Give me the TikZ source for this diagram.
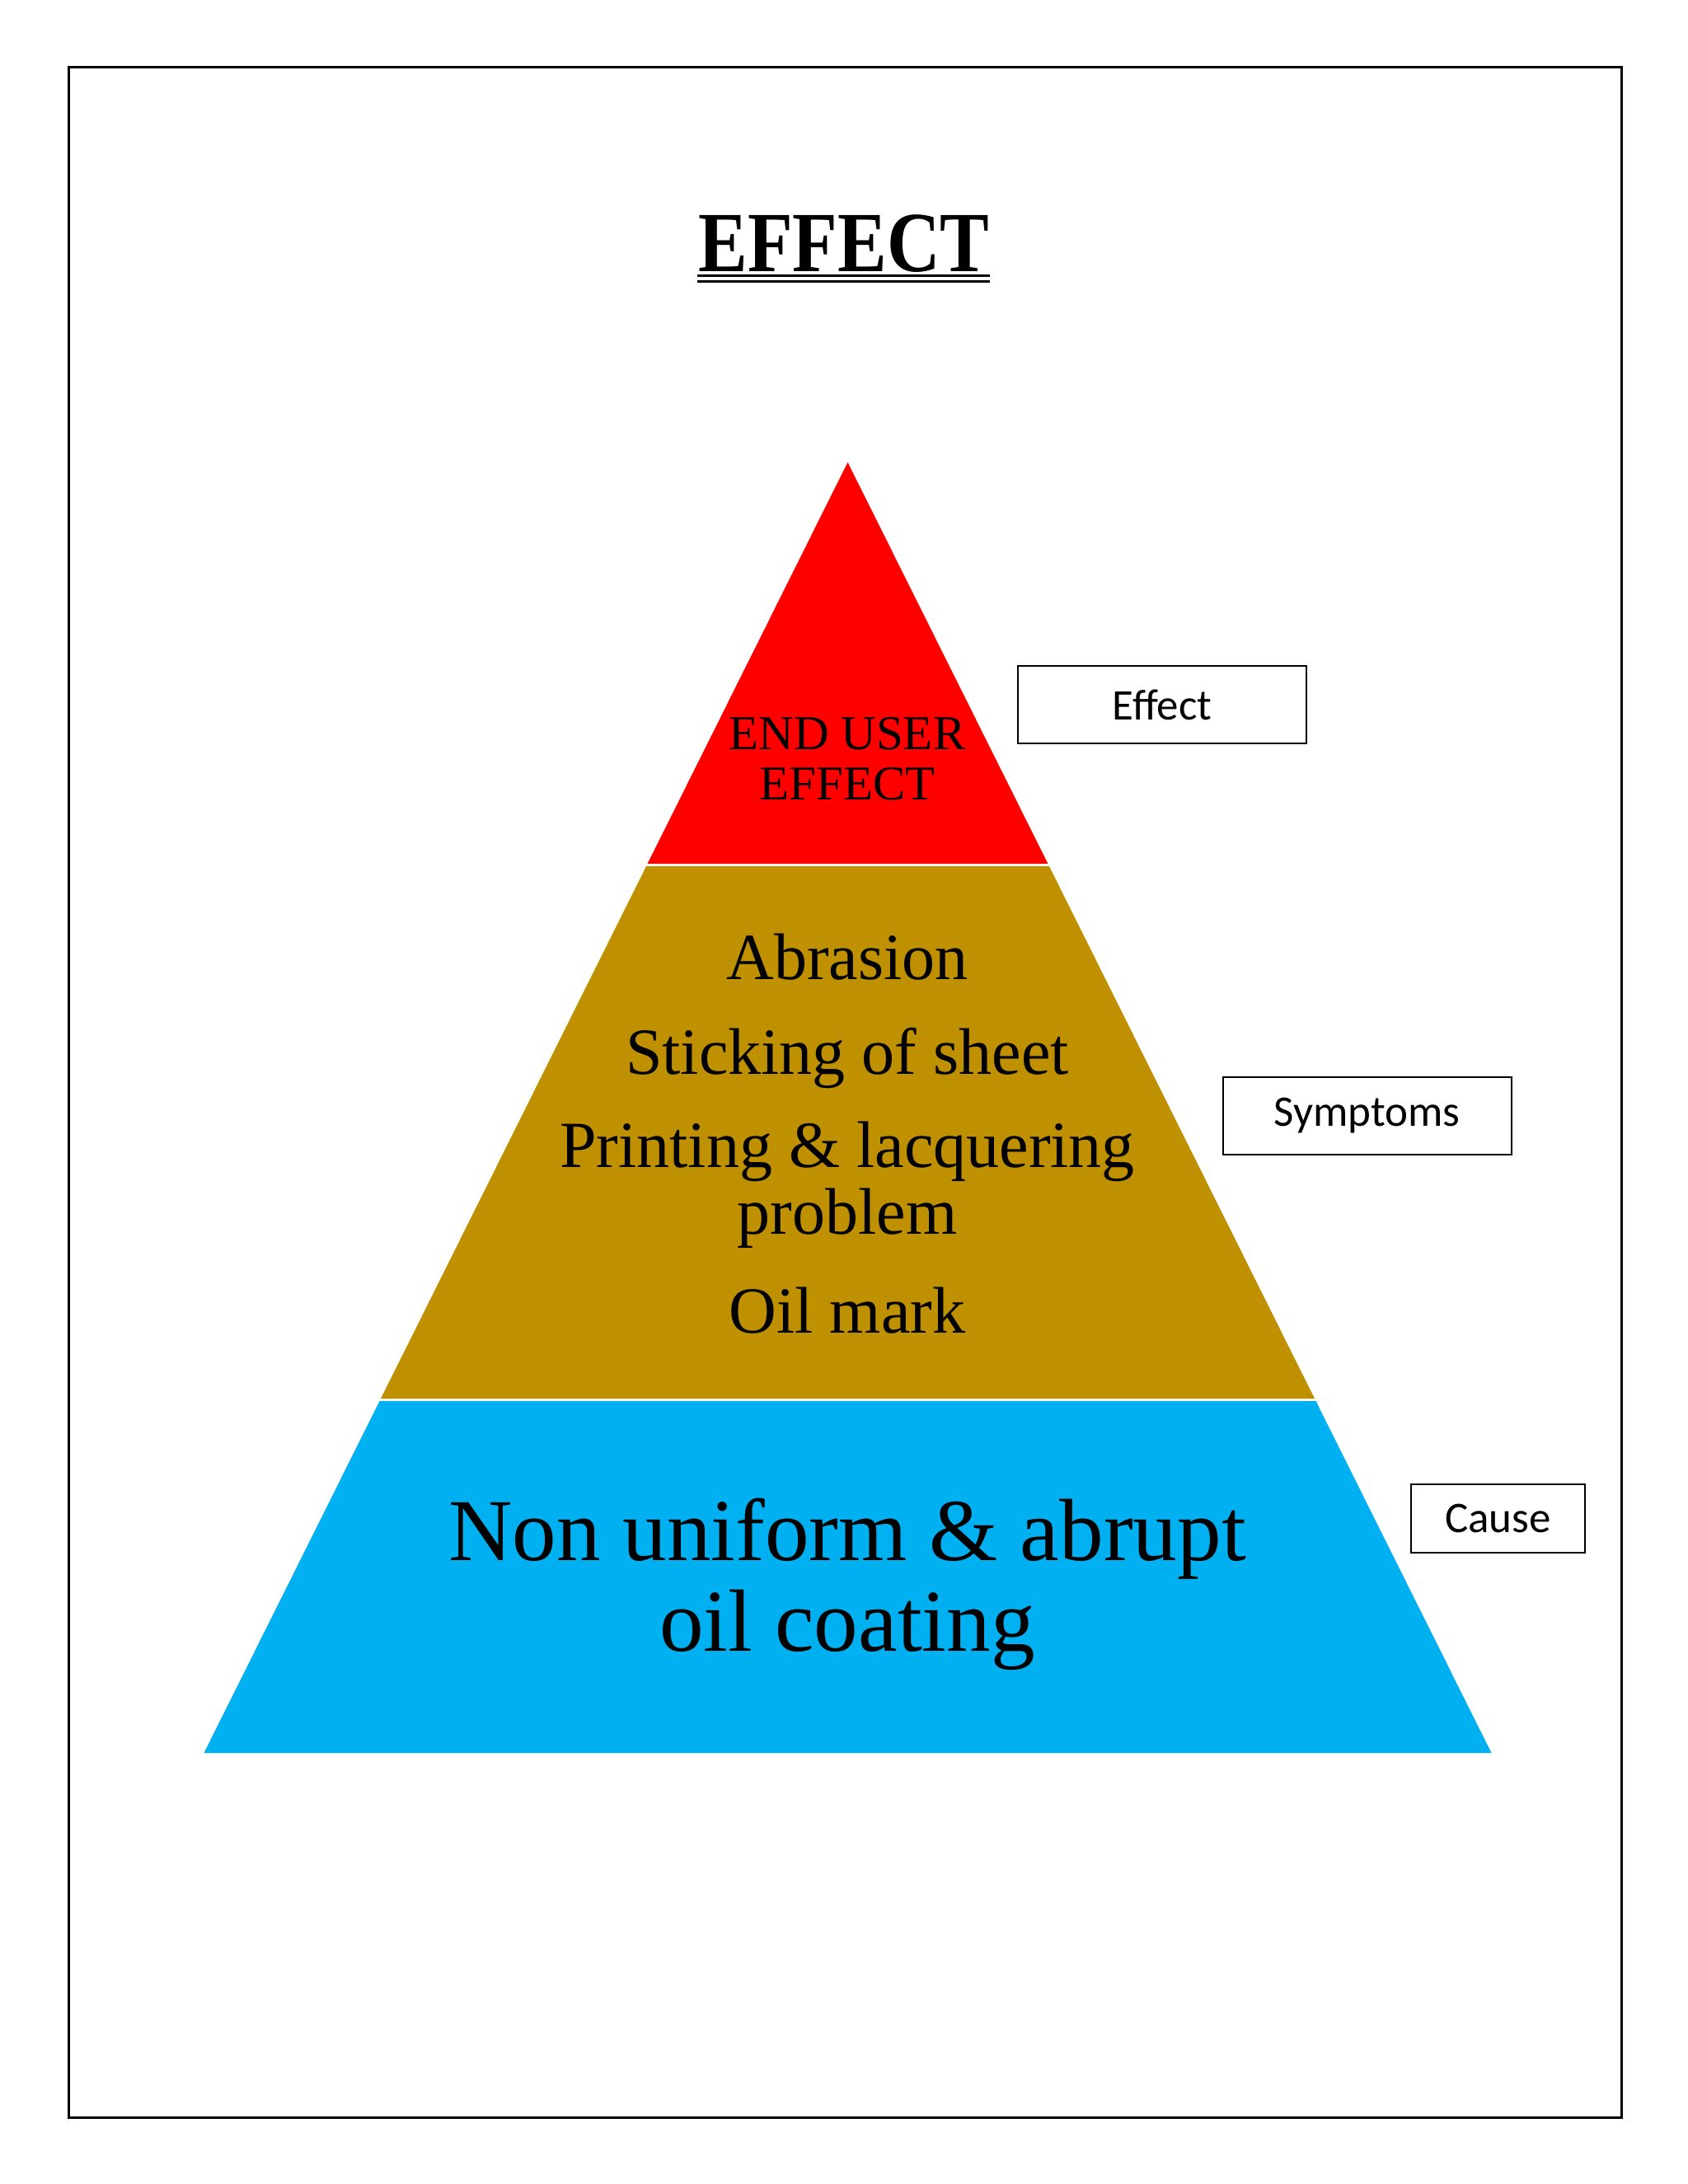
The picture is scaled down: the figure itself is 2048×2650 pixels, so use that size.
\documentclass[tikz,border=0pt]{standalone}
\usepackage{fontspec}
\setmainfont{Liberation Serif}
\newfontfamily\calibri{Carlito}
\definecolor{layerred}{HTML}{FF0000}
\definecolor{layergold}{HTML}{BF9000}
\definecolor{layerblue}{HTML}{00B0F0}
\tikzset{
  lbl/.style={draw=black, line width=1pt, fill=white, minimum width=175pt, minimum height=47pt, inner sep=0pt,
    font=\calibri\fontsize{26.5pt}{30pt}\selectfont},
  pyrtext/.style={anchor=base, inner sep=0pt, text=black},
}
\begin{document}
\begin{tikzpicture}[x=0.5pt, y=-0.5pt]
\useasboundingbox (0,0) rectangle (2048,2650);
\fill[white] (0,0) rectangle (2048,2650);
% frame
\draw[line width=1.5pt] (83,81) rectangle (1967,2569);
% title
\node[pyrtext, font=\bfseries\fontsize{52pt}{56pt}\selectfont, xscale=0.86, transform shape] (title) at (1024,329) {EFFECT};
\coordinate (ulA1) at (846,334);
\coordinate (ulB1) at (1201,334);
\coordinate (ulA2) at (846,341);
\coordinate (ulB2) at (1201,341);
\draw[line width=1.5pt] (ulA1) -- (ulB1);
\draw[line width=1.5pt] (ulA2) -- (ulB2);
% pyramid layers
\fill[layerred] (1028.5,561) -- (1271.4,1048) -- (785.6,1048) -- cycle;
\fill[layergold] (784.1,1051) -- (1272.9,1051) -- (1595,1697) -- (462,1697) -- cycle;
\fill[layerblue] (460.5,1700) -- (1596.5,1700) -- (1809.5,2127) -- (247.5,2127) -- cycle;
% red text
\node[pyrtext, font=\fontsize{29.5pt}{31pt}\selectfont] (enduser) at (1028,909) {END USER};
\node[pyrtext, font=\fontsize{29.5pt}{31pt}\selectfont] (endeffect) at (1028,970) {EFFECT};
% gold text
\tikzset{goldtxt/.style={pyrtext, font=\fontsize{40pt}{42pt}\selectfont}}
\node[goldtxt] (abrasion) at (1028,1188) {Abrasion};
\node[goldtxt] (sticking) at (1028,1303) {Sticking of sheet};
\node[goldtxt] (printing) at (1028,1416) {Printing \& lacquering};
\node[goldtxt] (problem) at (1028,1497) {problem};
\node[goldtxt] (oilmark) at (1028,1617) {Oil mark};
% blue text
\tikzset{bluetxt/.style={pyrtext, font=\fontsize{53.6pt}{56pt}\selectfont}}
\node[bluetxt] (nonuniform) at (1028,1893) {Non uniform \& abrupt};
\node[bluetxt] (oilcoat) at (1028,2003) {oil coating};
% side labels
\node[lbl] (effectbox) at (1410,855) {Effect};
\node[lbl] (symptomsbox) at (1658.5,1353.5) {Symptoms};
\node[lbl, minimum width=105.5pt, minimum height=41.5pt] (causebox) at (1817.5,1842.5) {Cause};
\end{tikzpicture}
\end{document}
